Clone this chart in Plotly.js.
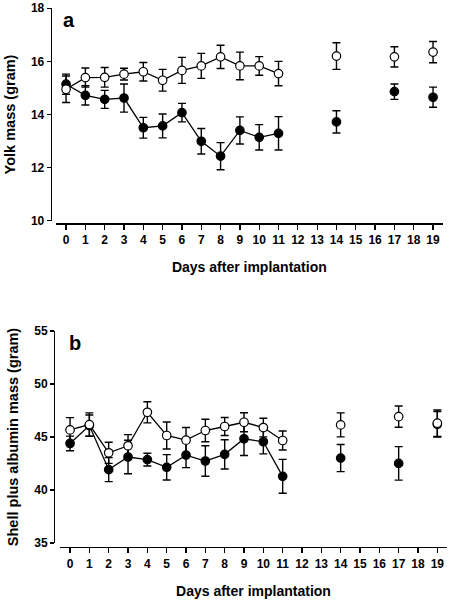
<!DOCTYPE html>
<html><head><meta charset="utf-8">
<script src="https://cdn.plot.ly/plotly-3.0.1.min.js"></script>
<style>body{margin:0;background:#fff}</style></head>
<body><div id="chart" style="width:451px;height:601px"></div>
<script>
// Days after implantation
const days = [0,1,2,3,4,5,6,7,8,9,10,11,14,17,19];
const xTicks = [0,1,2,3,4,5,6,7,8,9,10,11,12,13,14,15,16,17,18,19];
// Panel a: yolk mass (gram)
const yolkOpen      = [14.95,15.39,15.40,15.52,15.61,15.29,15.66,15.83,16.17,15.83,15.83,15.54,16.20,16.17,16.35];
const yolkOpenErr   = [0.50,0.36,0.37,0.22,0.35,0.41,0.49,0.47,0.44,0.52,0.35,0.46,0.50,0.38,0.40];
const yolkFilled    = [15.14,14.72,14.57,14.62,13.50,13.57,14.07,12.99,12.43,13.40,13.14,13.29,13.72,14.86,14.65];
const yolkFilledErr = [0.38,0.36,0.34,0.53,0.39,0.45,0.35,0.48,0.51,0.51,0.48,0.63,0.42,0.29,0.38];
// Panel b: shell plus albumin mass (gram)
const shellOpen      = [45.67,46.17,43.51,44.17,47.33,45.14,44.70,45.61,45.99,46.39,45.89,44.67,46.14,46.92,46.30];
const shellOpenErr   = [1.16,1.10,1.00,1.05,1.00,1.28,1.20,1.06,0.85,0.90,0.88,0.90,1.13,1.00,1.25];
const shellFilled    = [44.39,46.08,41.92,43.11,42.86,42.14,43.29,42.73,43.36,44.83,44.55,41.29,43.01,42.51,46.20];
const shellFilledErr = [0.69,1.00,1.13,1.58,0.60,1.20,1.18,1.44,1.38,1.58,1.14,1.60,1.28,1.58,1.20];

const lastConnectedDay = 11;

function series(vals, errs, filled, xa, ya, name) {
  const idxA = days.map((d,i)=>i).filter(i=>days[i] <= lastConnectedDay);
  const idxB = days.map((d,i)=>i).filter(i=>days[i] > lastConnectedDay);
  const marker = {symbol:'circle', size:8.5, color: filled ? '#000' : '#fff', line:{color:'#000', width:1.2}};
  const eb = (idx)=>({type:'data', array: idx.map(i=>errs[i]), visible:true, color:'#000', thickness:1.4, width:4});
  return [
    {x: idxA.map(i=>days[i]), y: idxA.map(i=>vals[i]), error_y: eb(idxA), mode:'lines+markers',
     line:{color:'#000', width:1.3}, marker, xaxis:xa, yaxis:ya, name, showlegend:false, type:'scatter'},
    {x: idxB.map(i=>days[i]), y: idxB.map(i=>vals[i]), error_y: eb(idxB), mode:'markers',
     marker, xaxis:xa, yaxis:ya, name, showlegend:false, type:'scatter'}
  ];
}

const data = [
  ...series(yolkFilled, yolkFilledErr, true, 'x', 'y', 'Filled'),
  ...series(yolkOpen, yolkOpenErr, false, 'x', 'y', 'Open'),
  ...series(shellFilled, shellFilledErr, true, 'x2', 'y2', 'Filled'),
  ...series(shellOpen, shellOpenErr, false, 'x2', 'y2', 'Open'),
];

const fam = 'Liberation Sans, Arial, sans-serif';
const tickFont = {family:fam, size:12, color:'#000', weight:'bold'};
const xTitleFont = {family:fam, size:14, color:'#000', weight:'bold'};
const yTitleFont = {family:fam, size:14.5, color:'#000', weight:'bold'};

function xax(domain, pos) {
  return {domain, anchor:'free', position:pos, range:[-0.52,19.5], tickvals:xTicks, ticktext:xTicks.map(String),
    showline:true, linewidth:1.3, linecolor:'#000', ticks:'outside', ticklen:5, tickwidth:1.3, tickcolor:'#000',
    showgrid:false, zeroline:false, tickfont:tickFont,
    title:{text:'Days after implantation', font:xTitleFont, standoff:16}};
}
function yax(domain, pos, range, dtick, title, standoff) {
  return {domain, anchor:'free', position:pos, range, dtick, showline:true, linewidth:1.3, linecolor:'#000',
    ticks:'outside', ticklen:4, tickwidth:1.3, tickcolor:'#000', showgrid:false, zeroline:false, tickfont:tickFont,
    title:{text:title, font:yTitleFont, standoff}};
}

const layout = {
  width:451, height:601, margin:{l:0,r:0,t:0,b:0}, paper_bgcolor:'#fff', plot_bgcolor:'rgba(0,0,0,0)',
  showlegend:false,
  xaxis: xax([0.1242,0.9816], 0.6285),
  yaxis: yax([0.6328,0.9862], 0.1124, [10,18], 2, 'Yolk mass (gram)', 10),
  xaxis2: xax([0.1330,0.9911], 0.0899),
  yaxis2: yax([0.0965,0.4493], 0.1197, [35,55], 5, 'Shell plus albumin mass (gram)', 10),
  annotations:[
    {text:'a', xref:'paper', yref:'paper', x:69/451, y:1-20/601, xanchor:'center', yanchor:'middle', showarrow:false, font:{family:fam, size:20, weight:'bold', color:'#000'}},
    {text:'b', xref:'paper', yref:'paper', x:75/451, y:1-343/601, xanchor:'center', yanchor:'middle', showarrow:false, font:{family:fam, size:20, weight:'bold', color:'#000'}}
  ]
};

Plotly.newPlot('chart', data, layout, {staticPlot:true, displayModeBar:false});
</script></body></html>
